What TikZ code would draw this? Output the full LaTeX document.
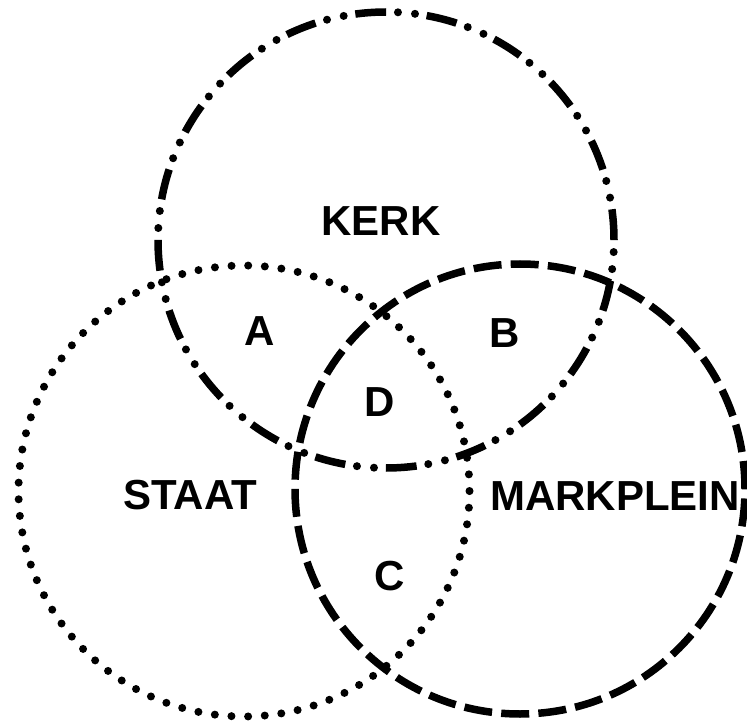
\documentclass[tikz,border=0pt]{standalone}
\usepackage{fontspec}
\setmainfont{Liberation Sans}
\begin{document}
\begin{tikzpicture}[x=1pt,y=-1pt, every node/.style={font=\fontsize{42}{42}\selectfont\bfseries,inner sep=0pt}]
  \useasboundingbox (0,0) rectangle (747,722);
  % kerk: streep-punt-punt
  \draw[line width=7.5pt,dash pattern=on 30.8pt off 40.83pt] (386,240) circle (228pt);
  \draw[line width=8pt,line cap=round,dash pattern=on 0pt off 17.1pt on 0pt off 54.53pt,dash phase=29.03pt] (386,240) circle (228pt);
  % staat: gestippeld
  \draw[line width=8pt,line cap=round,dash pattern=on 0pt off 16.67pt] (244,491) circle (225.5pt);
  % markplein: gestreept
  \draw[line width=7.5pt,dash pattern=on 28pt off 9.2pt] (520,489) circle (225pt);
  \node (kerk) at (381,221) {KERK};
  \node (staat) at (190,495) {STAAT};
  \node (markplein) at (615,496) {MARKPLEIN};
  \node (a) at (260,331) {A};
  \node (b) at (505,333) {B};
  \node (d) at (380,402) {D};
  \node (c) at (390,576) {C};
\end{tikzpicture}
\end{document}
